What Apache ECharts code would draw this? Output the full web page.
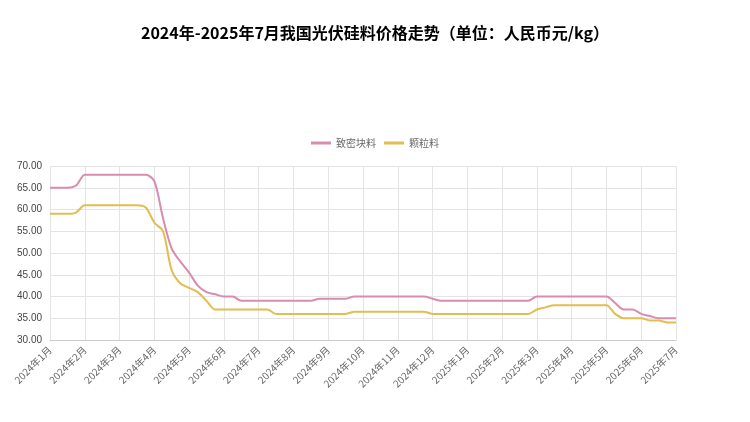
<!DOCTYPE html><html><head><meta charset="utf-8"><script src="https://cdn.jsdelivr.net/npm/echarts@6/dist/echarts.min.js"></script></head><body style="margin:0;background:#fff"><div id="c" style="width:750px;height:422px"></div><script>
const monthLabels=['2024年1月','2024年2月','2024年3月','2024年4月','2024年5月','2024年6月','2024年7月','2024年8月','2024年9月','2024年10月','2024年11月','2024年12月','2025年1月','2025年2月','2025年3月','2025年4月','2025年5月','2025年6月','2025年7月'];
const categories=[];monthLabels.forEach((m,i)=>{categories.push(m);if(i<monthLabels.length-1){categories.push(m+'w2',m+'w3',m+'w4');}});
const block=[65,65,65,65.5, 68,68,68,68, 68,68,68,68, 66.5,58,51,48, 45.5,42.5,41,40.5, 40,40,39,39, 39,39,39,39, 39,39,39,39.5, 39.5,39.5,39.5,40, 40,40,40,40, 40,40,40,40, 39.5,39,39,39, 39,39,39,39, 39,39,39,39, 40,40,40,40, 40,40,40,40, 40,38.5,37,37, 36,35.5,35,35, 35];
const granular=[59,59,59,59.3, 61,61,61,61, 61,61,61,60.5, 57,55,46,43, 42,41,39,37, 37,37,37,37, 37,37,36,36, 36,36,36,36, 36,36,36,36.5, 36.5,36.5,36.5,36.5, 36.5,36.5,36.5,36.5, 36,36,36,36, 36,36,36,36, 36,36,36,36, 37,37.5,38,38, 38,38,38,38, 38,36,35,35, 35,34.5,34.5,34, 34];
const chart=echarts.init(document.getElementById('c'));
chart.setOption({
title:{text:'2024年-2025年7月我国光伏硅料价格走势（单位：人民币元/kg）',left:'center',top:20,textStyle:{fontFamily:'Noto Sans CJK SC',fontSize:16,fontWeight:'bold',color:'#000'}},
legend:{top:133,left:'center',itemWidth:20,itemHeight:3,icon:'rect',textStyle:{fontSize:10,color:'#666',fontFamily:'Noto Sans CJK SC'},data:['致密块料','颗粒料']},
grid:{left:50,right:74,top:166,bottom:82},
xAxis:{type:'category',data:categories,boundaryGap:false,
axisLine:{lineStyle:{color:'#ccc'}},axisTick:{show:false},
axisLabel:{interval:3,rotate:45,color:'#666',fontSize:10,fontFamily:'Noto Sans CJK SC',formatter:v=>v},
splitLine:{show:true,interval:3,lineStyle:{color:'#e4e4e4'}}},
yAxis:{type:'value',min:30,max:70,interval:5,axisLabel:{formatter:v=>v.toFixed(2),color:'#444',fontSize:10},axisLine:{show:false},splitLine:{lineStyle:{color:'#e4e4e4'}}},
series:[{name:'致密块料',type:'line',data:block,showSymbol:false,smooth:0.3,lineStyle:{color:'#d98bb0',width:2},itemStyle:{color:'#d98bb0'}},
{name:'颗粒料',type:'line',data:granular,showSymbol:false,smooth:0.3,lineStyle:{color:'#e2bd4f',width:2},itemStyle:{color:'#e2bd4f'}}]
});
</script></body></html>
